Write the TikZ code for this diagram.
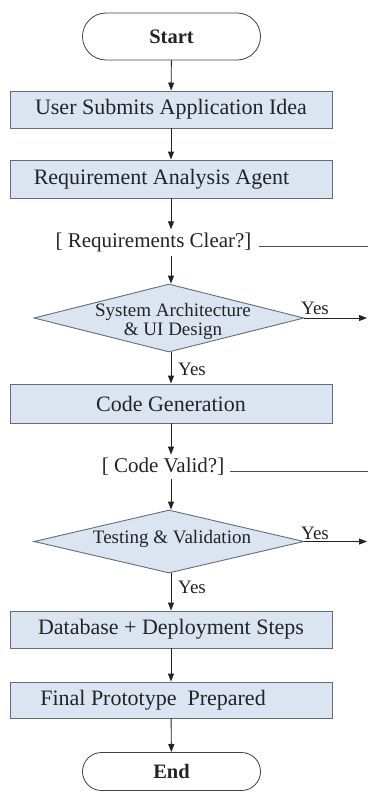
\documentclass[tikz,border=0pt]{standalone}
\usepackage{fontspec}
\setmainfont{Liberation Serif}
\usetikzlibrary{arrows.meta,calc,shapes.geometric,shapes.misc}
\definecolor{boxfill}{RGB}{219,229,241}
\definecolor{boxline}{RGB}{98,108,126}
\definecolor{ink}{RGB}{35,35,38}
\tikzset{
  procbox/.style={draw=boxline,fill=boxfill,line width=0.9pt,minimum width=322pt,inner sep=0pt,text=ink,font=\fontsize{22}{24}\selectfont},
  termbox/.style={rounded rectangle,draw=black!75,line width=0.8pt,minimum width=178pt,inner sep=0pt,text=ink,font=\bfseries\fontsize{20.5}{24}\selectfont},
  decbox/.style={diamond,draw=boxline,fill=boxfill,line width=0.9pt,inner sep=0pt,minimum width=270pt},
  dectext/.style={align=center,inner sep=0pt,text=ink,font=\fontsize{19}{19}\selectfont},
  guard/.style={inner sep=0pt,text=ink,font=\fontsize{21}{24}\selectfont},
  lbl/.style={inner sep=0pt,text=ink,font=\fontsize{19}{22}\selectfont},
  flow/.style={-{Triangle[width=6pt,length=8pt]},line width=0.9pt,draw=ink},
  branch/.style={line width=0.8pt,draw=black!70}
}

\begin{document}
\begin{tikzpicture}[x=1pt,y=-1pt]
		\useasboundingbox (0,0) rectangle (368,792);
		%%%%% START %%%%%
		\node[termbox,minimum height=47pt] (start) at (171.5,36.5) {Start};
		\node[procbox,minimum height=37pt] (idea) at (171,109.5) {User Submits Application Idea};
		\node[procbox,minimum height=38pt] (analysis) at (171,179) {Requirement Analysis Agent\hspace*{19pt}};
		\node[guard] (reqclear) at (153.5,242) {[ Requirements Clear?]};
		\node[decbox,minimum height=68pt] (design) at (169,318) {};
		\node[dectext] (designtxt) at (173,321) {System Architecture\\\& UI Design};
		\node[procbox,minimum height=39pt] (codegen) at (171,403.5) {Code Generation};
		\node[guard] (codevalid) at (163,466.5) {[ Code Valid?]};
		\node[decbox,minimum height=63pt] (testing) at (169,541.5) {};
		\node[dectext] (testingtxt) at (172,539) {Testing \& Validation};
		\node[procbox,minimum height=37pt] (deploy) at (171,629.5) {Database + Deployment Steps};
		\node[procbox,minimum height=36pt] (proto) at (171,700) {Final Prototype\ \ Prepared\hspace*{36pt}};
		\node[termbox,minimum height=38pt] (finish) at (171.5,771.5) {End};
		
		% yes labels
		\node[lbl,anchor=west] (designyes) at (301,308) {Yes};
		\node[lbl,anchor=west] (designdown) at (178,369) {Yes};
		\node[lbl,anchor=west] (testingyes) at (301,533) {Yes};
		\node[lbl,anchor=west] (testingdown) at (178,587) {Yes};
		
		% loose ends on the right
		\coordinate (reqout) at (368,246);
		\coordinate (codeout) at (368,471);
		\coordinate (designout) at (367,318);
		\coordinate (testingout) at (367,541.5);
		
		\draw[flow] (start) -- (idea);
		\draw[flow] (idea) -- (analysis);
		\draw[flow] (analysis.south) -- ($(analysis.south |- reqclear.north)+(0,-3)$);
		\draw[flow] ($(analysis.south |- reqclear.south)+(0,4)$) -- (analysis.south |- design.north);
		\draw[branch] ($(reqclear.east |- reqout)+(7,0)$) -- (reqout);
		\draw[flow] (design.east) -- (designout);
		\draw[flow] (analysis.south |- design.south) -- (codegen.north);
		\draw[flow] (codegen.south) -- ($(codegen.south |- codevalid.north)+(0,-3)$);
		\draw[flow] ($(codegen.south |- codevalid.south)+(0,4)$) -- (codegen.south |- testing.north);
		\draw[branch] ($(codevalid.east |- codeout)+(6,0)$) -- (codeout);
		\draw[flow] (testing.east) -- (testingout);
		\draw[flow] (codegen.south |- testing.south) -- (deploy.north);
		\draw[flow] (deploy) -- (proto);
		\draw[flow] (proto) -- (finish);
		%%%%% END %%%%%
	\end{tikzpicture}
\end{document}
